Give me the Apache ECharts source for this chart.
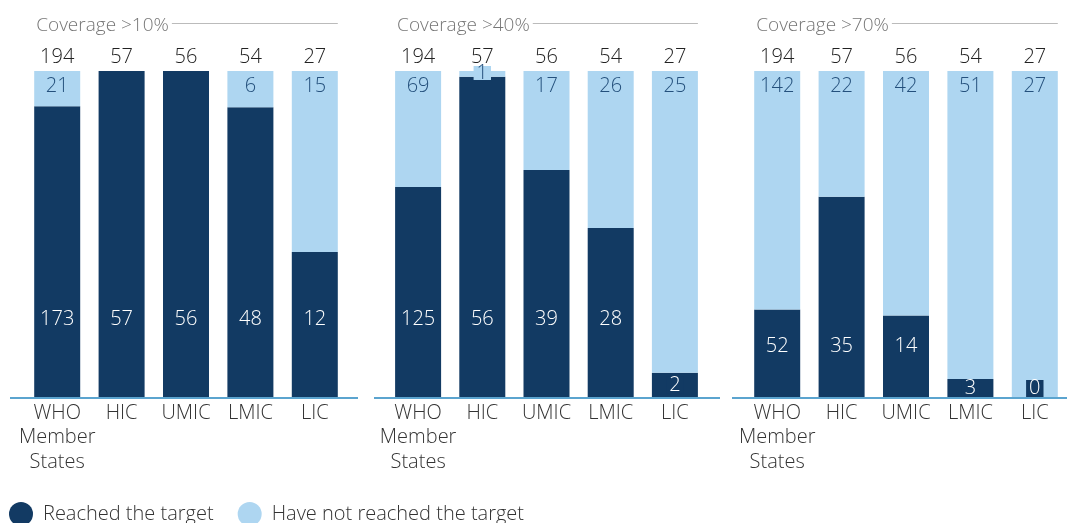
<!DOCTYPE html>
<html><head><meta charset="utf-8">
<script src="https://cdn.jsdelivr.net/npm/echarts@6/dist/echarts.min.js"></script>
<style>html,body{margin:0;padding:0;background:#fff}#c{width:1067px;height:523px}</style>
</head><body><div id="c"></div>
<script>
const categories = ['WHO\nMember\nStates', 'HIC', 'UMIC', 'LMIC', 'LIC'];
const panelTitles = ['Coverage >10%', 'Coverage >40%', 'Coverage >70%'];
const totals = [194, 57, 56, 54, 27];
const reached10 = [173, 57, 56, 48, 12];
const notReached10 = [21, 0, 0, 6, 15];
const reached40 = [125, 56, 39, 28, 2];
const notReached40 = [69, 1, 17, 26, 25];
const reached70 = [52, 35, 14, 3, 0];
const notReached70 = [142, 22, 42, 51, 27];
const seriesNames = ['Reached the target', 'Have not reached the target'];

const DARK = '#123a63', LIGHT = '#aed6f1', AXIS = '#5ba4cf';
const FONT = '"Open Sans", sans-serif';
const FW = 300, FS = 20;
const panels = [
  {reached: reached10, not: notReached10, left: 25, width: 322, lineL: 10, lineR: 358, bottomDist: 68},
  {reached: reached40, not: notReached40, left: 386, width: 321, lineL: 374, lineR: 720, bottomDist: 68},
  {reached: reached70, not: notReached70, left: 745, width: 322, lineL: 732, lineR: 1067, bottomDist: 41}
];
const TOP = 71, BASE = 397, BAR_W = 46;

const chart = echarts.init(document.getElementById('c'), null, {renderer: 'canvas'});
const grid = [], xAxis = [], yAxis = [], series = [], title = [], graphic = [];

panels.forEach((p, i) => {
  const pad = (p.width / 5 - BAR_W) / 2;
  grid.push({left: p.left, width: p.width, top: TOP, height: BASE - TOP});
  xAxis.push({type: 'category', gridIndex: i, data: categories,
    axisLine: {show: false}, axisTick: {show: false},
    axisLabel: {color: '#333', fontSize: FS, fontWeight: FW, fontFamily: FONT, lineHeight: 24.5, margin: 4, interval: 0}});
  yAxis.push({type: 'value', gridIndex: i, min: 0, max: 100, show: false, splitLine: {show: false}});
  title.push({text: panelTitles[i], left: p.left + pad - 3, top: 11,
    textStyle: {color: '#777', fontSize: 19, fontWeight: FW, fontFamily: FONT}});

  const darkData = p.reached.map((v, j) => {
    const pct = v / totals[j] * 100;
    const d = {value: pct, raw: v};
    if (pct < 12) {
      d.label = {position: v === 0 ? 'insideBottom' : 'inside', distance: 0,
        backgroundColor: DARK, padding: [0, 3], lineHeight: 17};
    }
    return d;
  });
  const lightData = p.not.map((v, j) => {
    const pct = v / totals[j] * 100;
    const d = {value: pct, raw: v};
    if (v === 0) d.label = {show: false};
    else if (pct < 5) d.label = {position: 'top', distance: -9, backgroundColor: LIGHT, padding: [0, 3], lineHeight: 14};
    return d;
  });
  series.push({name: seriesNames[0], type: 'bar', xAxisIndex: i, yAxisIndex: i, stack: 's' + i,
    barWidth: BAR_W, itemStyle: {color: DARK}, data: darkData,
    label: {show: true, position: 'insideBottom', distance: p.bottomDist, color: '#fff', fontSize: FS, fontWeight: FW, fontFamily: FONT,
      formatter: o => o.data.raw}});
  series.push({name: seriesNames[1], type: 'bar', xAxisIndex: i, yAxisIndex: i, stack: 's' + i,
    barWidth: BAR_W, itemStyle: {color: LIGHT}, data: lightData,
    label: {show: true, position: 'insideTop', distance: 5, color: '#24507c', fontSize: FS, fontWeight: FW, fontFamily: FONT,
      formatter: o => o.data.raw}});
  series.push({name: 'total', type: 'bar', xAxisIndex: i, yAxisIndex: i, barWidth: BAR_W, barGap: '-100%', z: 1,
    silent: true, itemStyle: {color: 'rgba(0,0,0,0)'}, data: totals.map(t => ({value: 100, raw: t})),
    label: {show: true, position: 'top', distance: 4, color: '#222', fontSize: FS, fontWeight: FW, fontFamily: FONT,
      formatter: o => o.data.raw}});

  graphic.push({type: 'line', shape: {x1: p.lineL, y1: BASE + 1, x2: p.lineR, y2: BASE + 1},
    style: {stroke: AXIS, lineWidth: 2}, silent: true});
});

chart.setOption({
  animation: false,
  title, grid, xAxis, yAxis, series,
  legend: {data: seriesNames, left: 4, top: 497, icon: 'circle', itemWidth: 24, itemHeight: 24, itemGap: 24,
    textStyle: {color: '#333', fontSize: FS, fontWeight: FW, fontFamily: FONT, padding: [0, 0, 0, 5]}},
  graphic
});

const ctx = document.createElement('canvas').getContext('2d');
ctx.font = FW + ' 19px ' + FONT;
const extra = panels.map((p, i) => {
  const pad = (p.width / 5 - BAR_W) / 2;
  const w = ctx.measureText(panelTitles[i]).width;
  const tx = p.left + pad - 3;
  const rightEdge = p.left + p.width - pad;
  return {type: 'line', shape: {x1: tx + w + 8, y1: 23.5, x2: rightEdge, y2: 23.5},
    style: {stroke: '#bbb', lineWidth: 1}, silent: true};
});
chart.setOption({graphic: graphic.concat(extra)});
</script></body></html>
